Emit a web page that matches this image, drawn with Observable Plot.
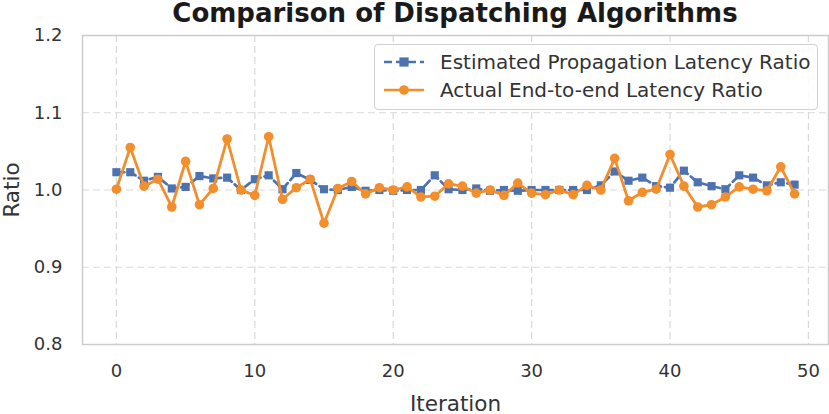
<!DOCTYPE html>
<html>
<head>
<meta charset="utf-8">
<script src="https://cdn.jsdelivr.net/npm/d3@7"></script>
<script src="https://cdn.jsdelivr.net/npm/@observablehq/plot@0.6"></script>
<style>
  html, body { margin: 0; padding: 0; background: #fff; }
  body { width: 829px; height: 414px; position: relative; overflow: hidden; font-family: "DejaVu Sans", sans-serif; }
  #title { height: 26px; line-height: 27px; padding-left: 82px; width: 746px; text-align: center; font-weight: bold; font-size: 26px; color: #1a1a1a; white-space: nowrap; }
  #chart svg { overflow: visible; }
  #legend { position: absolute; left: 374px; top: 44px; width: 444px; height: 66px; border: 1px solid #d0d0d0; border-radius: 4px; background: rgba(255,255,255,0.85); box-sizing: border-box; }
  .row { position: absolute; left: 7px; height: 26px; display: flex; align-items: center; font-size: 20px; color: #333; white-space: nowrap; }
  .row svg { margin-right: 14px; }
</style>
</head>
<body>
<div id="title">Comparison of Dispatching Algorithms</div>
<div id="chart"></div>
<div id="legend"></div>
<script>
const iterations = d3.range(50);
const estimated = [
  1.023, 1.023, 1.012, 1.017, 1.002, 1.004, 1.018, 1.015, 1.016, 1.000,
  1.014, 1.019, 1.001, 1.022, 1.013, 1.001, 1.000, 1.004, 0.999, 1.000,
  0.999, 1.000, 1.000, 1.019, 1.001, 1.000, 1.002, 0.999, 1.000, 0.999,
  1.000, 1.000, 1.000, 1.000, 1.000, 1.006, 1.024, 1.012, 1.016, 1.005,
  1.003, 1.025, 1.010, 1.005, 1.001, 1.019, 1.016, 1.006, 1.010, 1.007
];
const actual = [
  1.001, 1.055, 1.005, 1.014, 0.978, 1.037, 0.981, 1.002, 1.066, 1.000,
  0.993, 1.069, 0.988, 1.003, 1.014, 0.957, 1.002, 1.011, 0.995, 1.003,
  1.000, 1.004, 0.991, 0.992, 1.008, 1.005, 0.996, 1.000, 0.993, 1.009,
  0.996, 0.994, 1.000, 0.994, 1.006, 1.000, 1.041, 0.986, 0.997, 1.001,
  1.046, 1.005, 0.978, 0.981, 0.991, 1.004, 1.001, 0.999, 1.030, 0.995
];
const seriesNames = ["Estimated Propagation Latency Ratio", "Actual End-to-end Latency Ratio"];
const xTicks = [0, 10, 20, 30, 40, 50];
const yTicks = [0.8, 0.9, 1.0, 1.1, 1.2];

const blue = "#4c72b0";
const orange = "#f28e2b";

const est = iterations.map((i) => ({x: i, y: estimated[i]}));
const act = iterations.map((i) => ({x: i, y: actual[i]}));

const chart = Plot.plot({
  width: 829,
  height: 388,
  marginTop: 9,
  marginBottom: 70,
  marginLeft: 82,
  marginRight: 1,
  style: { fontFamily: "DejaVu Sans, sans-serif", fontSize: "18px", color: "#333", background: "#fff", overflow: "visible" },
  x: { domain: [-2.45, 51.45], ticks: xTicks },
  y: { domain: [0.8, 1.2], ticks: yTicks },
  marks: [
    Plot.gridX(xTicks, { stroke: "#d9d9d9", strokeOpacity: 1, strokeWidth: 1.2, strokeDasharray: "7,4" }),
    Plot.gridY(yTicks, { stroke: "#d9d9d9", strokeOpacity: 1, strokeWidth: 1.2, strokeDasharray: "7,4" }),
    Plot.frame({ stroke: "#cccccc", strokeWidth: 1.5 }),
    Plot.axisX(xTicks, { tickSize: 0, tickPadding: 20, fontSize: 18, label: null, fill: "#333" }),
    Plot.axisX({ ticks: [], tickSize: 0, label: "Iteration", labelAnchor: "center", labelArrow: "none", labelOffset: 66, fontSize: 21.5, fill: "#333" }),
    Plot.axisY(yTicks, { tickSize: 0, tickPadding: 20, fontSize: 18, tickFormat: d3.format(".1f"), label: null, fill: "#333" }),
    Plot.axisY({ ticks: [], tickSize: 0, label: "Ratio", labelAnchor: "center", labelArrow: "none", labelOffset: 79, fontSize: 21.5, fill: "#333" }),
    Plot.line(est, { x: "x", y: "y", stroke: blue, strokeWidth: 2.7, strokeDasharray: "8,4" }),
    Plot.dot(est, { x: "x", y: "y", symbol: "square", r: 4.6, fill: blue, stroke: "none" }),
    Plot.line(act, { x: "x", y: "y", stroke: orange, strokeWidth: 2.8 }),
    Plot.dot(act, { x: "x", y: "y", r: 4.8, fill: orange, stroke: "none" })
  ]
});
document.getElementById("chart").appendChild(chart);

// legend
const legend = d3.select("#legend");
const rows = [
  { name: seriesNames[0], color: blue, dash: "8,4", symbol: "square", top: 4 },
  { name: seriesNames[1], color: orange, dash: null, symbol: "circle", top: 32 }
];
rows.forEach((r) => {
  const row = legend.append("div").attr("class", "row").style("top", r.top + "px");
  const svg = row.append("svg").attr("width", 44).attr("height", 20);
  svg.append("line").attr("x1", 2).attr("x2", 42).attr("y1", 10).attr("y2", 10)
    .attr("stroke", r.color).attr("stroke-width", 2.7).attr("stroke-dasharray", r.dash);
  if (r.symbol === "square") svg.append("rect").attr("x", 17.4).attr("y", 5.4).attr("width", 9.2).attr("height", 9.2).attr("fill", r.color);
  else svg.append("circle").attr("cx", 22).attr("cy", 10).attr("r", 4.8).attr("fill", r.color);
  row.append("span").text(r.name);
});
</script>
</body>
</html>
